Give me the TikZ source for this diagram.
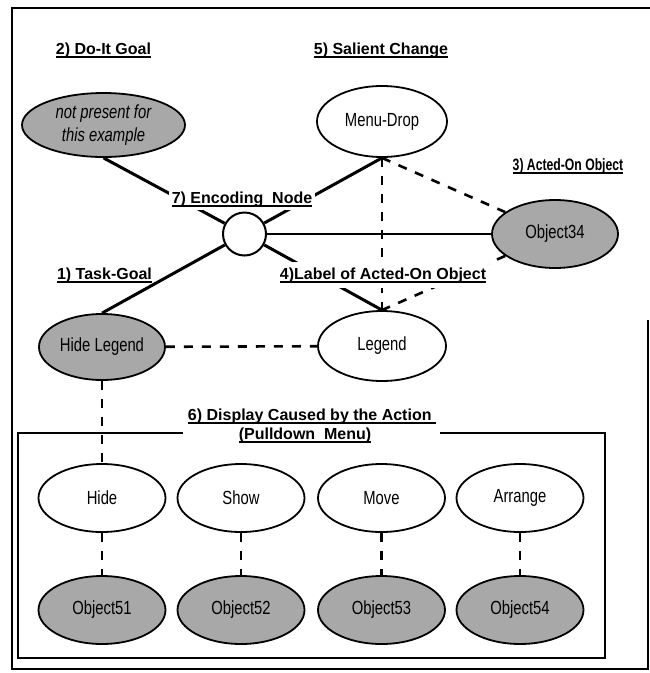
\documentclass[tikz,border=0pt]{standalone}
\usepackage{fontspec}
\setmainfont{Liberation Sans}
\newfontfamily\nodefont[FakeStretch=0.78]{Liberation Sans}
\newfontfamily\narrowbold[FakeStretch=0.74]{Liberation Sans}
\usetikzlibrary{shapes.geometric}
\definecolor{stipple}{gray}{0.66}
% bold underlined caption with a heavy rule
\newcommand{\ulined}[1]{\setbox0\hbox{#1}\rlap{\rule[-3.5pt]{\wd0}{1.6pt}}\box0}
\tikzset{
  ell/.style={ellipse, draw, line width=1.8pt, inner sep=0pt,
    minimum width=127pt, minimum height=68pt,
    font=\nodefont\fontsize{19}{23}\selectfont},
  obj/.style={ell, fill=stipple},
  enc/.style={circle, draw, line width=2pt, minimum size=43pt, inner sep=0pt},
  lbl/.style={font=\bfseries\fontsize{16}{19}\selectfont, inner sep=3pt, anchor=base},
  lblsmall/.style={lbl, font=\narrowbold\bfseries\fontsize{16.5}{19}\selectfont},
  thk/.style={line width=3pt},
  thin/.style={line width=1.8pt},
  dsh/.style={line width=2.6pt, dash pattern=on 9pt off 9pt},
  frame/.style={line width=2pt}
}
\begin{document}
\begin{tikzpicture}[x=1pt, y=-1pt]
\useasboundingbox (0,0) rectangle (650,673);
\fill[white] (0,0) rectangle (650,673);

% frames
\draw[frame] (648,320) -- (648,669) -- (12,669) -- (12,8) -- (650,8);
\draw[frame] (183,433) -- (18,433) -- (18,658) -- (605,658) -- (605,433) -- (440,433);

% upper network
\node[obj, minimum width=163pt, minimum height=64pt, align=center] (dg) at (103.5,125)
  {\itshape not present for\\\itshape this example};
\node[ell, minimum width=130pt, minimum height=71pt] (md) at (382,121.5) {Menu-Drop};
\node[obj, minimum width=126pt] (o34) at (555,234) {Object34};
\node[enc] (en) at (244.5,234) {};
\node[obj, minimum width=126pt, minimum height=66pt] (hl) at (102,347) {Hide Legend};
\node[ell, minimum width=128pt, minimum height=70pt] (lg) at (382,346) {Legend};

% pulldown menu entries and their objects
\node[ell] (m1) at (102,498) {Hide};
\node[ell] (m2) at (241,498) {Show};
\node[ell] (m3) at (381.5,498) {Move};
\node[ell] (m4) at (520,498) {Arrange};
\node[obj] (b1) at (102,610) {Object51};
\node[obj] (b2) at (241,610) {Object52};
\node[obj] (b3) at (381.5,610) {Object53};
\node[obj] (b4) at (520,610) {Object54};

% connectors
\draw[thk] (dg.south) -- (en);
\draw[thk] (md.south) -- (en);
\draw[thk] (en) -- (lg.north);
\draw[thk] (en) -- (hl.north);
\draw[thin] (en) -- (o34);
\draw[dsh] (md.south) -- (lg.north);
\draw[dsh] (md.south) -- (o34);
\draw[dsh] (o34) -- (lg.north);
\draw[dsh] (hl) -- (lg);
\draw[dsh] (hl.south) -- (m1.north);
\foreach \i in {1,2,3,4} \draw[dsh] (m\i.south) -- (b\i.north);

% captions
\node[lbl] (l2) at (103.5,54) {\ulined{2) Do-It Goal}};
\node[lbl] (l5) at (381,54) {\ulined{5) Salient Change}};
\node[lbl, fill=white] (l7) at (242,203) {\ulined{7) Encoding~ Node}};
\node[lblsmall] (l3) at (568,170) {\ulined{3) Acted-On Object}};
\node[lbl] (l1) at (104.5,279) {\ulined{1) Task-Goal}};
\node[lbl, fill=white, inner ysep=5pt] (l4) at (383,279) {\ulined{4)Label of Acted-On Object}};
\node[lbl] (l6a) at (312,420) {\ulined{6) Display Caused by the Action\ }};
\node[lbl] (l6b) at (305,439) {\ulined{(Pulldown~ Menu)}};
\end{tikzpicture}
\end{document}
